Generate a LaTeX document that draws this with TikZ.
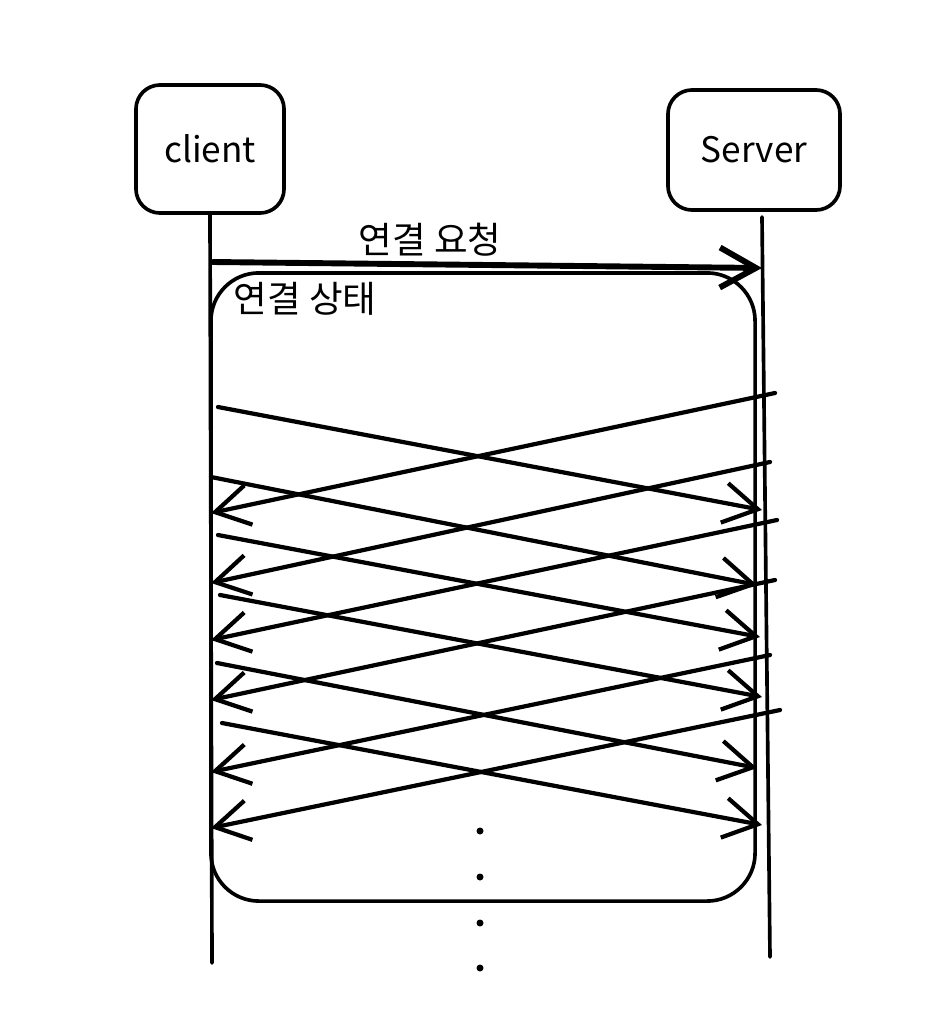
\documentclass[tikz,border=0pt]{standalone}
\usepackage{fontspec}
\setmainfont{Noto Sans CJK KR}
\usetikzlibrary{arrows.meta,positioning}

\begin{document}
\begin{tikzpicture}[x=0.025cm,y=-0.025cm,
  actor/.style={draw,line width=2.6pt,rounded corners=6mm,font=\fontsize{25}{30}\selectfont},
  lbl/.style={font=\fontsize{26}{30}\selectfont,inner sep=0pt},
  life/.style={line width=2.6pt,line cap=round},
  req/.style={line width=4.2pt,line cap=round,-{Straight Barb[length=9mm,width=10mm]}},
  msg/.style={line width=3pt,line cap=round,-{Straight Barb[length=8.5mm,width=10mm]}}]
\useasboundingbox (0,0) rectangle (926,1020);
\node[actor,minimum width=3.7cm,minimum height=3.2cm] (client) at (210,149) {client};
\node[actor,minimum width=4.3cm,minimum height=3.0cm] (server) at (754,150) {Server};
\coordinate (cend) at (212,963);
\coordinate (stop) at (762,217);
\coordinate (send) at (770,957);
\draw[life] (client.south) -- (cend);
\draw[life] (stop) -- (send);
\node[draw,line width=2.6pt,rounded corners=1.2cm,minimum width=13.6cm,minimum height=15.7cm] (state) at (483,587) {};
\node[lbl] (statelbl) at (305,299) {연결 상태};
\coordinate (reqa) at (213,262);
\coordinate (reqb) at (762,268);
\draw[req] (reqa) -- (reqb);
\node[lbl] (reqlbl) at (430,240) {연결 요청};
\foreach \i/\xa/\ya/\xb/\yb in {1/218/407/762/510,2/211/477/757/585,3/218/535/760/637,4/220/595/762/697,5/217/663/757/768,6/222/723/762/825}{
  \coordinate (ra\i) at (\xa,\ya);
  \coordinate (rb\i) at (\xb,\yb);
  \draw[msg] (ra\i) -- (rb\i);
}
\foreach \i/\xa/\ya/\xb/\yb in {1/775/393/211/513,2/770/462/211/583,3/777/520/211/640,4/775/580/211/700,5/770/655/211/772,6/780/710/211/828}{
  \coordinate (la\i) at (\xa,\ya);
  \coordinate (lb\i) at (\xb,\yb);
  \draw[msg] (la\i) -- (lb\i);
}
\foreach \y in {831,877,923,968}
  \fill (480,\y) circle (3.5);
\end{tikzpicture}
\end{document}
